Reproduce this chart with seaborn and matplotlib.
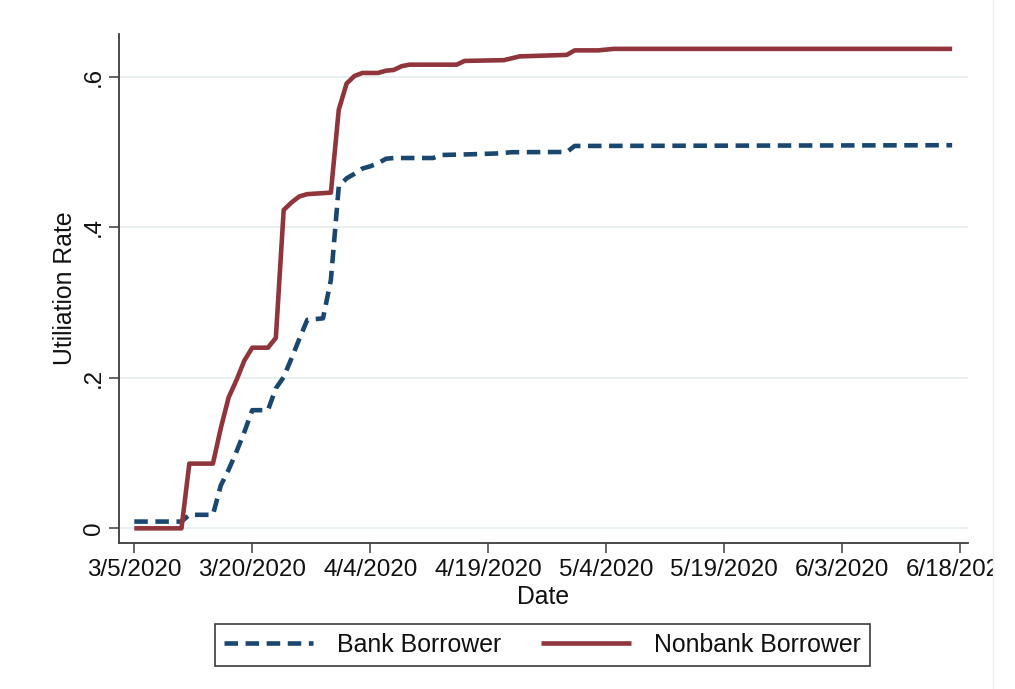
import matplotlib
matplotlib.use("Agg")
import matplotlib.pyplot as plt
from matplotlib.lines import Line2D
from matplotlib.patches import Rectangle
import pandas as pd
import seaborn as sns

# Share of credit lines drawn down, by borrower type
bank_dates = [
    "2020-03-05", "2020-03-11", "2020-03-12", "2020-03-15", "2020-03-16",
    "2020-03-17", "2020-03-18", "2020-03-19", "2020-03-20", "2020-03-22",
    "2020-03-23", "2020-03-24", "2020-03-25", "2020-03-26", "2020-03-27",
    "2020-03-29", "2020-03-30", "2020-03-31", "2020-04-01", "2020-04-02",
    "2020-04-03", "2020-04-04", "2020-04-05", "2020-04-06", "2020-04-07",
    "2020-04-12", "2020-04-13", "2020-04-17", "2020-04-20", "2020-04-22",
    "2020-04-29", "2020-04-30", "2020-06-17",
]
bank_rate = [
    0.009, 0.009, 0.018, 0.018, 0.057,
    0.078, 0.102, 0.128, 0.157, 0.157,
    0.186, 0.201, 0.226, 0.252, 0.277,
    0.279, 0.330, 0.454, 0.465, 0.471,
    0.478, 0.481, 0.485, 0.491, 0.492,
    0.492, 0.496, 0.497, 0.498, 0.4997,
    0.500, 0.508, 0.509,
]

nonbank_dates = [
    "2020-03-05", "2020-03-11", "2020-03-12", "2020-03-15", "2020-03-16",
    "2020-03-17", "2020-03-18", "2020-03-19", "2020-03-20", "2020-03-22",
    "2020-03-23", "2020-03-24", "2020-03-25", "2020-03-26", "2020-03-27",
    "2020-03-30", "2020-03-31", "2020-04-01", "2020-04-02", "2020-04-03",
    "2020-04-05", "2020-04-06", "2020-04-07", "2020-04-08", "2020-04-09",
    "2020-04-15", "2020-04-16", "2020-04-21", "2020-04-23", "2020-04-29",
    "2020-04-30", "2020-05-03", "2020-05-05", "2020-06-17",
]
nonbank_rate = [
    0.000, 0.000, 0.086, 0.086, 0.133,
    0.174, 0.197, 0.223, 0.240, 0.240,
    0.253, 0.423, 0.433, 0.441, 0.444,
    0.446, 0.556, 0.591, 0.601, 0.605,
    0.605, 0.608, 0.609, 0.614, 0.616,
    0.616, 0.621, 0.622, 0.627, 0.629,
    0.635, 0.635, 0.637, 0.637,
]

series_names = ["Bank Borrower", "Nonbank Borrower"]
tick_dates = ["2020-03-05", "2020-03-20", "2020-04-04", "2020-04-19",
              "2020-05-04", "2020-05-19", "2020-06-03", "2020-06-18"]
tick_labels = ["3/5/2020", "3/20/2020", "4/4/2020", "4/19/2020",
               "5/4/2020", "5/19/2020", "6/3/2020", "6/18/2020"]
y_ticks = [0, 0.2, 0.4, 0.6]
y_tick_labels = ["0", ".2", ".4", ".6"]

df = pd.concat([
    pd.DataFrame({"Date": pd.to_datetime(bank_dates), "Rate": bank_rate,
                  "Borrower": series_names[0]}),
    pd.DataFrame({"Date": pd.to_datetime(nonbank_dates), "Rate": nonbank_rate,
                  "Borrower": series_names[1]}),
], ignore_index=True)

sns.set_style("ticks")
plt.rcParams["font.family"] = ["Liberation Sans", "DejaVu Sans"]

navy = "#1A476F"
maroon = "#90353B"
axis_col = "#3c3c3c"
text_col = "#111111"
lw = 3.3
dash = (2.95, 1.65)

fig = plt.figure(figsize=(10.15, 6.89), dpi=100)
ax = fig.add_axes([0.1175, 0.2123, 0.8359, 0.7383])

sns.lineplot(
    data=df, x="Date", y="Rate", hue="Borrower", style="Borrower",
    palette={series_names[0]: navy, series_names[1]: maroon},
    dashes={series_names[0]: dash, series_names[1]: ""},
    linewidth=lw, estimator=None, legend=False, ax=ax,
)
for line in ax.get_lines():
    line.set_dash_capstyle("butt")
    line.set_solid_capstyle("butt")
    line.set_solid_joinstyle("round")

start = pd.Timestamp("2020-03-05")
ax.set_xlim(start - pd.Timedelta(days=1.91), start + pd.Timedelta(days=105.98))
ax.set_ylim(-0.0191, 0.6567)

ax.set_xticks(pd.to_datetime(tick_dates))
ax.set_xticklabels(tick_labels)
ax.set_yticks(y_ticks)
ax.set_yticklabels(y_tick_labels)
for lbl in ax.get_yticklabels():
    lbl.set_rotation(90)
    lbl.set_va("center")
    lbl.set_ha("right")

ax.yaxis.grid(True, color="#e3ecef", linewidth=1.2)
ax.xaxis.grid(False)
ax.set_axisbelow(True)

ax.tick_params(axis="both", length=7.2, width=1.1, color=axis_col,
               labelsize=17.4, labelcolor=text_col)
ax.tick_params(axis="x", pad=4.4)
ax.tick_params(axis="y", pad=3)

sns.despine(ax=ax)
for side in ("left", "bottom"):
    ax.spines[side].set_color(axis_col)
    ax.spines[side].set_linewidth(1.3)

ax.set_xlabel("Date", fontsize=17.8, color=text_col, va="center")
ax.xaxis.set_label_coords(0.5, -0.1067)
ax.set_ylabel("Utiliation Rate", fontsize=17.8, color=text_col, va="center")
ax.yaxis.set_label_coords(-0.064, 0.5)

handles = [
    Line2D([], [], color=navy, linewidth=lw, linestyle=(0, dash),
           dash_capstyle="butt"),
    Line2D([], [], color=maroon, linewidth=lw, solid_capstyle="butt"),
]
leg = fig.legend(
    handles, series_names, loc="center", bbox_to_anchor=(0.5345, 0.0639),
    ncol=2, frameon=True, fancybox=False, edgecolor=axis_col, framealpha=1,
    fontsize=17.9, handlelength=3.6, handletextpad=0.95, columnspacing=1.6,
    borderpad=0.36, borderaxespad=0,
)
leg.get_frame().set_linewidth(1.2)
for t in leg.get_texts():
    t.set_color(text_col)

# blank margin along the right edge of the canvas
edge = 993 / 1015
fig.add_artist(Rectangle((edge, 0), 1 - edge, 1, transform=fig.transFigure,
                         facecolor="white", edgecolor="none", zorder=10))
fig.add_artist(Line2D([edge, edge], [0, 1], transform=fig.transFigure,
                      color="#efefef", linewidth=1, zorder=11))

fig.savefig("out.png", dpi=100)
